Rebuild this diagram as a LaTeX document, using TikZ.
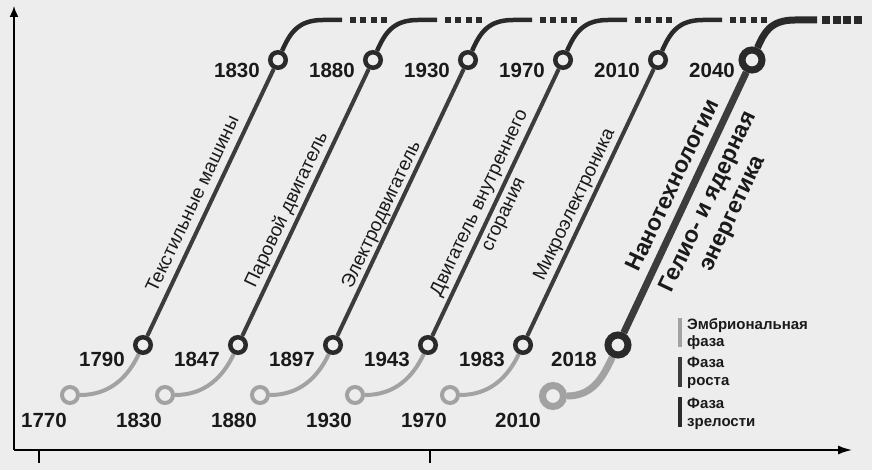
\documentclass[tikz,border=0pt]{standalone}
\usepackage{fontspec}
\setmainfont{Liberation Sans}
\usetikzlibrary{arrows.meta,calc}
\pgfdeclarelayer{bgl}
\pgfdeclarelayer{back}
\pgfsetlayers{bgl,back,main}
\definecolor{bg}{HTML}{EDEDED}
\definecolor{emb}{HTML}{A2A2A2}
\definecolor{gro}{HTML}{3C3C3C}
\definecolor{mat}{HTML}{2A2A2A}
\definecolor{txt}{HTML}{1A1A1A}
\begin{document}
\begin{tikzpicture}[x=1pt,y=-1pt,
  embc/.style={circle,draw=emb,fill=bg,line width=4pt,minimum size=16pt,inner sep=0pt},
  groc/.style={circle,draw=mat,fill=bg,line width=4.5pt,minimum size=15.5pt,inner sep=0pt},
  matc/.style={circle,draw=mat,fill=bg,line width=4.5pt,minimum size=15.5pt,inner sep=0pt},
  embcB/.style={embc,line width=7pt,minimum size=21pt},
  grocB/.style={groc,line width=7pt,minimum size=20pt},
  matcB/.style={matc,line width=7pt,minimum size=20pt},
  embline/.style={draw=emb,line width=4pt},
  groline/.style={draw=gro,line width=4pt},
  matline/.style={draw=mat,line width=4.5pt},
  dotline/.style={draw=mat,line width=6pt,dash pattern=on 6pt off 4.3pt},
  yr/.style={font=\bfseries\fontsize{20.5}{20}\selectfont,text=txt,inner sep=0pt},
  tech/.style={font=\fontsize{19}{27}\selectfont,text=txt,inner sep=0pt,rotate=64.6,align=center},
  techB/.style={font=\bfseries\fontsize{23}{27}\selectfont,text=txt,inner sep=0pt,rotate=64.6,align=center},
  leg/.style={font=\bfseries\fontsize{15}{18}\selectfont,text=txt,inner sep=0pt,anchor=base west},
  axis/.style={draw=black,line width=1.6pt}
]
\begin{pgfonlayer}{bgl}
\fill[bg] (0,0) rectangle (872,470);
\end{pgfonlayer}
\useasboundingbox (0,0) rectangle (872,470);

% axes
\coordinate (o) at (14,450);
\coordinate (ytop) at (14,6);
\coordinate (xend) at (852,450);
\draw[axis,-{Latex[length=11pt,width=9pt]}] (o) -- (ytop);
\draw[axis,-{Latex[length=14pt,width=9pt]}] (o) -- (xend);
\coordinate (tk1) at (39,450);
\coordinate (tk1b) at (39,463);
\coordinate (tk2) at (430,450);
\coordinate (tk2b) at (430,463);
\draw[axis] (tk1) -- (tk1b);
\draw[axis] (tk2) -- (tk2b);

% regular cycles
\foreach \i/\ex/\gx/\tx/\ea/\ga/\ta in {1/70/143/278/1770/1790/1830,2/165/238/373/1830/1847/1880,3/260/333/468/1880/1897/1930,4/355/428/563/1930/1943/1970,5/450/523/658/1970/1983/2010}{
  \node[embc] (e\i) at (\ex,395) {};
  \node[groc] (g\i) at (\gx,345) {};
  \node[matc] (t\i) at (\tx,60) {};
  \node[yr] (ye\i) at (\ex-26,420) {\ea};
  \node[yr] (yg\i) at (\gx-41,359) {\ga};
  \node[yr] (yt\i) at (\tx-41,70) {\ta};
  \coordinate (k\i) at (\tx+45,20);
  \coordinate (h\i) at (\tx+64,20);
  \coordinate (d\i) at (\tx+72,20);
  \coordinate (f\i) at (\tx+109,20);
  \begin{pgfonlayer}{back}
    \draw[embline] (e\i) .. controls +(40,0) and +(-15,32) .. (g\i);
    \draw[groline] (g\i) -- (t\i);
    \draw[matline] (t\i) .. controls +(12,-27) and +(-25,0) .. (k\i) -- (h\i);
    \draw[dotline] (d\i) -- (f\i);
  \end{pgfonlayer}
}

% big cycle
\node[embcB] (e6) at (553,396) {};
\node[grocB] (g6) at (618,345) {};
\node[matcB] (t6) at (752,60) {};
\node[yr] (ye6) at (518,420) {2010};
\node[yr] (yg6) at (574,359) {2018};
\node[yr] (yt6) at (712,70) {2040};
\coordinate (k6) at (795,20);
\coordinate (h6) at (817,20);
\coordinate (d6) at (822,20);
\coordinate (f6) at (862,20);
\begin{pgfonlayer}{back}
  \draw[embline,line width=7pt] (e6) .. controls +(40,0) and +(-15,32) .. (g6);
  \draw[groline,line width=7pt] (g6) -- (t6);
  \draw[matline,line width=7pt] (t6) .. controls +(12,-27) and +(-25,0) .. (k6) -- (h6);
  \draw[dotline,line width=8pt,dash pattern=on 8pt off 2.7pt] (d6) -- (f6);
\end{pgfonlayer}

% technology labels
\node[tech] (l1) at (192,204) {Текстильные машины};
\node[tech] (l2) at (287,210) {Паровой двигатель};
\node[tech] (l3) at (382,215) {Электродвигатель};
\node[tech] (l4) at (492,209) {Двигатель внутреннего\\сгорания};
\node[tech] (l5) at (575,205) {Микроэлектроника};
\node[techB] (l6a) at (672,185) {Нанотехнологии};
\node[techB] (l6b) at (721,208) {Гелио- и ядерная\\энергетика};

% legend
\fill[emb] (678,318) rectangle (682,347);
\fill[gro] (678,357) rectangle (682,387);
\fill[mat] (678,397) rectangle (682,427);
\node[leg] (la1) at (687,329) {Эмбриональная};
\node[leg] (la2) at (687,346) {фаза};
\node[leg] (lb1) at (687,367) {Фаза};
\node[leg] (lb2) at (687,385) {роста};
\node[leg] (lc1) at (687,408) {Фаза};
\node[leg] (lc2) at (687,426) {зрелости};
\end{tikzpicture}
\end{document}
